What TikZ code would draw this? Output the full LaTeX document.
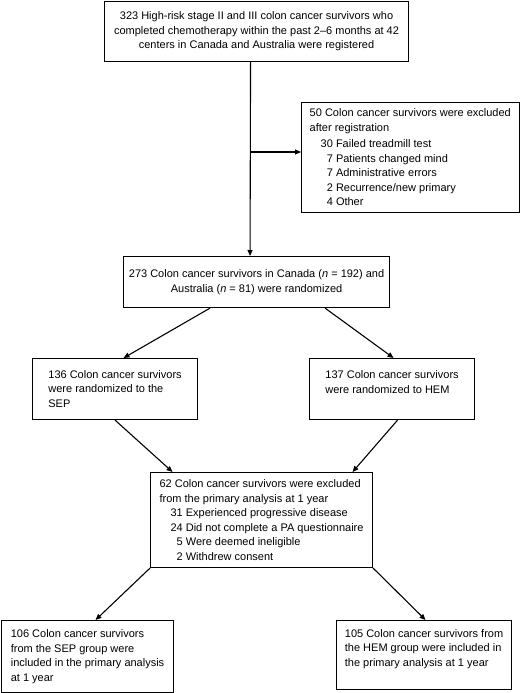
\documentclass[tikz,border=0pt]{standalone}
\usepackage{fontspec}
\setmainfont{Liberation Sans}
\usetikzlibrary{arrows.meta}
\newcommand\subA{\hspace*{11pt}}
\newcommand\subB{\hspace*{11pt}\phantom{0}}
\begin{document}
\begin{tikzpicture}[x=1pt,y=-1pt,
  box/.style={draw, line width=1.1pt, inner sep=0pt, anchor=north west,
    font=\fontsize{11}{14.5}\selectfont},
  arr/.style={line width=1.1pt, -{Triangle[length=6pt,width=5pt]}}]
\useasboundingbox[fill=white] (0,0) rectangle (520,693);

\node[box, align=center, minimum width=304, minimum height=60] (top) at (104,1)
  {323 High-risk stage II and III colon cancer survivors who\\
   completed chemotherapy within the past 2--6 months at 42\\
   centers in Canada and Australia were registered};

\node[box, align=left, minimum width=217.5, minimum height=110] (excl) at (301,102)
  {50 Colon cancer survivors were excluded\\
   after registration\\[2pt]
   \subA 30 Failed treadmill test\\
   \subB 7 Patients changed mind\\
   \subB 7 Administrative errors\\
   \subB 2 Recurrence/new primary\\
   \subB 4 Other};

\node[box, align=center, minimum width=266, minimum height=51] (rand) at (123,256)
  {273 Colon cancer survivors in Canada (\textit{n} = 192) and\\[1pt]
   Australia (\textit{n} = 81) were randomized};

\node[box, align=left, minimum width=165, minimum height=61] (sep) at (32,358)
  {136 Colon cancer survivors\\
   were randomized to the\\
   SEP};

\node[box, align=left, minimum width=165, minimum height=61] (hem) at (309,358)
  {137 Colon cancer survivors\\
   were randomized to HEM\\
   ~};

\node[box, align=left, minimum width=222, minimum height=95] (excl2) at (150,472)
  {62 Colon cancer survivors were excluded\\
   from the primary analysis at 1 year\\
   \subA 31 Experienced progressive disease\\
   \subA 24 Did not complete a PA questionnaire\\
   \subB 5 Were deemed ineligible\\
   \subB 2 Withdrew consent};

\node[box, align=left, minimum width=172, minimum height=72] (bl) at (1,620)
  {106 Colon cancer survivors\\
   from the SEP group were\\
   included in the primary analysis\\
   at 1 year};

\node[box, align=left, minimum width=175, minimum height=69] (br) at (336,620)
  {105 Colon cancer survivors from\\
   the HEM group were included in\\
   the primary analysis at 1 year\\
   ~};

% connectors
\draw[arr] ([xshift=-6]top.south) -- ([xshift=-6.5]rand.north);
\coordinate (branch) at (250,152);
\draw[arr] (branch) -- (branch -| excl.west);
\draw[arr] ([xshift=-46.5]rand.south) -- ([xshift=8.5]sep.north);
\draw[arr] ([xshift=68.5]rand.south) -- ([xshift=1.5]hem.north);
\draw[arr] (sep.south) -- ([xshift=-89]excl2.north);
\draw[arr] ([xshift=5.5]hem.south) -- ([xshift=91]excl2.north);
\draw[arr] (excl2.south west) -- ([xshift=8]bl.north);
\draw[arr] (excl2.south east) -- ([xshift=1.5]br.north);
\end{tikzpicture}
\end{document}
